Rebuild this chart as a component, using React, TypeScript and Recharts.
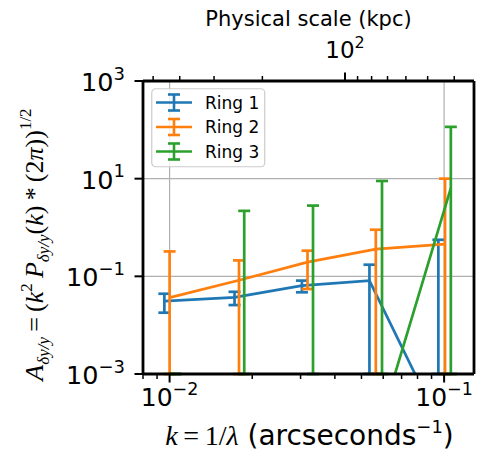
import React from 'react';
import { ComposedChart, Line, XAxis, YAxis, ErrorBar, CartesianGrid, Legend, Label } from 'recharts';

// ---- data ----
const seriesNames = ['Ring 1', 'Ring 2', 'Ring 3'];
const seriesColors = ['#1f77b4', '#ff7f0e', '#2ca02c'];

const ring1K = [0.00957, 0.01724, 0.03034, 0.05346, 0.0953];
const ring1A = [0.031, 0.037, 0.0644, 0.082, 0.000105];
const ring1Err = [0.013, 0.0112, 0.0173, 0.091, 0.56];

const ring2K = [0.01, 0.0179, 0.0318, 0.0564, 0.1008];
const ring2A = [0.0367, 0.083, 0.195, 0.362, 0.458];
const ring2Err = [0.287, 0.129, 0.14, 0.538, 9.54];

const ring3K = [0.0105, 0.0187, 0.0333, 0.0594, 0.1058];
const ring3A = [0.00003, 0.00005, 0.00008, 0.000131, 6.4];
const ring3Err = [0.0004, 2.19, 2.81, 8.97, 108.6];

const xMajorTicks = [0.01, 0.1];
const xMinorTicks = [0.008, 0.009, 0.02, 0.03, 0.04, 0.05, 0.06, 0.07, 0.08, 0.09];
const yTicks = [1e-3, 1e-1, 1e1, 1e3];
const topMajorTicks = [100];
const topMinorTicks = [40, 50, 60, 70, 80, 90, 200, 300, 400, 500];
const kpcPerInvArcsec = 4.355; // physical scale (kpc) = kpcPerInvArcsec / k

const xDomain = [0.008, 0.1285];
const yDomain = [1e-3, 1e3];
const topDomain = [kpcPerInvArcsec / xDomain[1], kpcPerInvArcsec / xDomain[0]];

type Pt = { k: number; a: number; err: [number, number] };
const clampY = (v: number) => Math.min(Math.max(v, yDomain[0]), yDomain[1]);
// error ends are clipped to the visible axis range (as matplotlib's clipping does)
const build = (k: number[], a: number[], e: number[]): Pt[] =>
  k.map((kv, i) => {
    const lo = clampY(a[i] - e[i]);
    const hi = clampY(a[i] + e[i]);
    return { k: kv, a: a[i], err: [a[i] - lo, hi - a[i]] };
  });

const seriesData = [build(ring1K, ring1A, ring1Err), build(ring2K, ring2A, ring2Err), build(ring3K, ring3A, ring3Err)];
// anchor table so the secondary (top / right) axes are instantiated
const frameAnchor = [
  { kpc: topDomain[0], v: 0 },
  { kpc: topDomain[1], v: 1 },
];

const SANS = '"DejaVu Sans", sans-serif';
const SERIF = '"Liberation Serif", "DejaVu Serif", serif';

const expText = (v: number) => {
  const e = Math.round(Math.log10(v));
  return e < 0 ? '\u2212' + -e : String(e);
};
const isIn = (arr: number[], v: number) => arr.some((t) => Math.abs(t - v) / t < 1e-6);

const BottomTick = (props: any) => {
  const { x, y, payload } = props;
  const major = isIn(xMajorTicks, payload.value);
  return (
    <g>
      <line x1={x} x2={x} y1={y} y2={y + (major ? 8.5 : 5)} stroke="#000" strokeWidth={major ? 2 : 1.5} />
      {major && (
        <text x={x} y={y + 32} textAnchor="middle" fontFamily={SANS} fontSize={25} fill="#000">
          10<tspan dy={-11} fontSize={17.5}>{expText(payload.value)}</tspan>
        </text>
      )}
    </g>
  );
};

const TopTick = (props: any) => {
  const { x, y, payload } = props;
  const major = isIn(topMajorTicks, payload.value);
  return (
    <g>
      <line x1={x} x2={x} y1={y} y2={y - (major ? 8.5 : 5)} stroke="#000" strokeWidth={major ? 2 : 1.5} />
      {major && (
        <text x={x} y={y - 23} textAnchor="middle" fontFamily={SANS} fontSize={23} fill="#000">
          10<tspan dy={-10} fontSize={16}>{expText(payload.value)}</tspan>
        </text>
      )}
    </g>
  );
};

const LeftTick = (props: any) => {
  const { x, y, payload } = props;
  return (
    <g>
      <line x1={x} x2={x - 8.5} y1={y} y2={y} stroke="#000" strokeWidth={2} />
      <text x={x - 18} y={y + 10} textAnchor="end" fontFamily={SANS} fontSize={25.5} fill="#000">
        10<tspan dy={-11.5} fontSize={18}>{expText(payload.value)}</tspan>
      </text>
    </g>
  );
};

const TopLabel = (props: any) => {
  const vb = props.viewBox;
  return (
    <text x={vb.x + vb.width / 2} y={vb.y + 26} textAnchor="middle" fontFamily={SANS} fontSize={21} fill="#000">
      Physical scale (kpc)
    </text>
  );
};

const BottomLabel = (props: any) => {
  const vb = props.viewBox;
  return (
    <text x={vb.x + vb.width / 2 + 1} y={vb.y + 71} textAnchor="middle" fontSize={28} fill="#000" fontFamily={SANS}>
      <tspan fontFamily={SERIF} fontStyle="italic">k</tspan>
      <tspan fontFamily={SERIF}>{'\u2009=\u20091/'}</tspan>
      <tspan fontFamily={SERIF} fontStyle="italic">{'\u03bb'}</tspan>
      <tspan> (arcseconds</tspan>
      <tspan dy={-12} fontSize={18}>{'\u22121'}</tspan>
      <tspan dy={12}>)</tspan>
    </text>
  );
};

const LeftLabel = (props: any) => {
  const vb = props.viewBox;
  const cx = 43;
  const cy = vb.y + vb.height / 2 + 17;
  const sub = 17;
  return (
    <text
      x={cx}
      y={cy}
      textAnchor="middle"
      transform={`rotate(-90, ${cx}, ${cy})`}
      fontFamily={SERIF}
      fontSize={26}
      fill="#000"
    >
      <tspan fontStyle="italic">A</tspan>
      <tspan dy={6} fontSize={sub} fontStyle="italic">{'\u03b4y/y'}</tspan>
      <tspan dy={-6}>{'\u2009=\u2009('}</tspan>
      <tspan fontStyle="italic">k</tspan>
      <tspan dy={-11} fontSize={sub}>2</tspan>
      <tspan dy={11} fontStyle="italic">{'\u2009P'}</tspan>
      <tspan dy={6} fontSize={sub} fontStyle="italic">{'\u03b4y/y'}</tspan>
      <tspan dy={-6}>(</tspan>
      <tspan fontStyle="italic">k</tspan>
      <tspan>{')\u2009*\u2009(2'}</tspan>
      <tspan fontStyle="italic">{'\u03c0'}</tspan>
      <tspan>))</tspan>
      <tspan dy={-12} fontSize={sub}>1/2</tspan>
    </text>
  );
};

const LegendBox = () => {
  const rowH = 24.5;
  return (
    <svg width={115} height={80} style={{ display: 'block' }}>
      <rect x={0.75} y={0.75} width={113} height={78} rx={4} ry={4} fill="#fff" fillOpacity={0.8} stroke="#cccccc" strokeWidth={1.2} />
      {seriesNames.map((name, i) => {
        const cy = 14.5 + i * rowH;
        const c = seriesColors[i];
        return (
          <g key={name}>
            <line x1={5} x2={41} y1={cy} y2={cy} stroke={c} strokeWidth={2.6} />
            <line x1={23} x2={23} y1={cy - 8} y2={cy + 8} stroke={c} strokeWidth={2.6} />
            <line x1={17} x2={29} y1={cy - 8} y2={cy - 8} stroke={c} strokeWidth={2.6} />
            <line x1={17} x2={29} y1={cy + 8} y2={cy + 8} stroke={c} strokeWidth={2.6} />
            <text x={54} y={cy + 6} fontFamily={SANS} fontSize={17} fill="#000">
              {name}
            </text>
          </g>
        );
      })}
    </svg>
  );
};

export default function App() {
  return (
    <div style={{ position: 'absolute', left: 0, top: 0, width: 480, height: 458, background: '#fff' }}>
      <ComposedChart width={480} height={458} margin={{ top: 0, right: 0, bottom: 0, left: 0 }}>
        <CartesianGrid
          stroke="#b0b0b0"
          strokeWidth={1.2}
          horizontalValues={yTicks}
          verticalValues={xMajorTicks}
          xAxisId="bottom"
          yAxisId="left"
        />
        {seriesData.map((d, i) => (
          <Line
            key={seriesNames[i]}
            name={seriesNames[i]}
            data={d}
            dataKey="a"
            xAxisId="bottom"
            yAxisId="left"
            stroke={seriesColors[i]}
            strokeWidth={2.7}
            dot={false}
            activeDot={false}
            isAnimationActive={false}
          >
            <ErrorBar dataKey="err" direction="y" width={6} stroke={seriesColors[i]} strokeWidth={2.7} isAnimationActive={false} />
          </Line>
        ))}
        <Line
          data={frameAnchor}
          dataKey="v"
          xAxisId="top"
          yAxisId="right"
          stroke="none"
          dot={false}
          activeDot={false}
          legendType="none"
          isAnimationActive={false}
        />
        <XAxis
          xAxisId="bottom"
          dataKey="k"
          type="number"
          scale="log"
          domain={xDomain}
          allowDataOverflow
          ticks={[...xMinorTicks, ...xMajorTicks].sort((a, b) => a - b)}
          interval={0}
          height={84}
          tickSize={0}
          tickMargin={0}
          tick={<BottomTick />}
          axisLine={{ stroke: '#000', strokeWidth: 2.8 }}
          label={<Label content={<BottomLabel />} />}
        />
        <XAxis
          xAxisId="top"
          dataKey="kpc"
          orientation="top"
          type="number"
          scale="log"
          domain={topDomain}
          reversed
          allowDataOverflow
          ticks={[...topMinorTicks, ...topMajorTicks].sort((a, b) => a - b)}
          interval={0}
          height={81}
          tickSize={0}
          tickMargin={0}
          tick={<TopTick />}
          axisLine={{ stroke: '#000', strokeWidth: 2.8 }}
          label={<Label content={<TopLabel />} />}
        />
        <YAxis
          yAxisId="left"
          type="number"
          scale="log"
          domain={yDomain}
          allowDataOverflow
          ticks={yTicks}
          interval={0}
          width={143}
          tickSize={0}
          tickMargin={0}
          tick={<LeftTick />}
          axisLine={{ stroke: '#000', strokeWidth: 2.8 }}
          label={<Label content={<LeftLabel />} />}
        />
        <YAxis
          yAxisId="right"
          orientation="right"
          type="number"
          domain={[0, 1]}
          allowDataOverflow
          width={6}
          tick={false}
          tickLine={false}
          axisLine={{ stroke: '#000', strokeWidth: 2.8 }}
        />
        <Legend
          layout="vertical"
          verticalAlign="middle"
          align="center"
          content={<LegendBox />}
          wrapperStyle={{ position: 'absolute', left: 151, top: 88, width: 115, height: 80 }}
        />
      </ComposedChart>
    </div>
  );
}
